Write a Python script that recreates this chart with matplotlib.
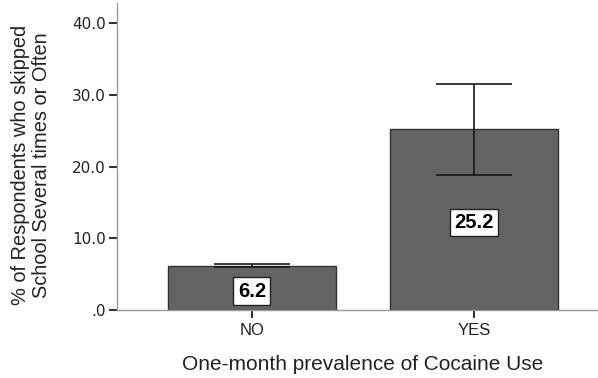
import matplotlib.pyplot as plt

plt.rcParams['font.family'] = ['Liberation Sans', 'DejaVu Sans']

categories = ['NO', 'YES']
values = [6.2, 25.2]
err_low = [6.0, 18.8]
err_high = [6.4, 31.5]
label_pos = [2.6, 12.2]

fig = plt.figure(figsize=(5.98, 3.78), dpi=100)
ax = fig.add_axes([0.1957, 0.1799, 0.8043, 0.8121])

x = list(range(len(categories)))
ax.bar(x, values, width=0.757, color='#646464', edgecolor='#333333', linewidth=1, zorder=2)

yerr = [[v - lo for v, lo in zip(values, err_low)], [hi - v for v, hi in zip(values, err_high)]]
ax.errorbar(x, values, yerr=yerr, fmt='none', ecolor='#1a1a1a', elinewidth=1.2,
            capsize=27.5, capthick=1.2, zorder=3)

for xi, v, p in zip(x, values, label_pos):
    ax.text(xi, p, f'{v:.1f}', ha='center', va='center', fontsize=14.5, fontweight='bold',
            bbox=dict(boxstyle='square,pad=0.22', facecolor='white', edgecolor='#222222', linewidth=1),
            zorder=4)

ax.set_xlim(-0.608, 1.559)
ax.set_ylim(0, 42.8)
ax.set_yticks([0, 10, 20, 30, 40])
ax.set_yticklabels(['.0', '10.0', '20.0', '30.0', '40.0'], family='DejaVu Sans', fontsize=11)
ax.set_xticks(x)
ax.set_xticklabels(categories, fontsize=12)

for s in ['top', 'right']:
    ax.spines[s].set_visible(False)
for s in ['left', 'bottom']:
    ax.spines[s].set_color('#999999')
    ax.spines[s].set_linewidth(1)
ax.tick_params(axis='both', colors='#333333', labelcolor='#222222', length=6, width=1.5)
ax.tick_params(axis='y', pad=2)

ax.set_ylabel('% of Respondents who skipped\nSchool Several times or Often', fontsize=14.4,
              color='#222222', linespacing=1.15)
ax.yaxis.set_label_coords(-0.137, 0.472)
ax.set_xlabel('One-month prevalence of Cocaine Use', fontsize=15, color='#222222')
ax.xaxis.set_label_coords(0.511, -0.145)

fig.savefig('out.png', dpi=100)
